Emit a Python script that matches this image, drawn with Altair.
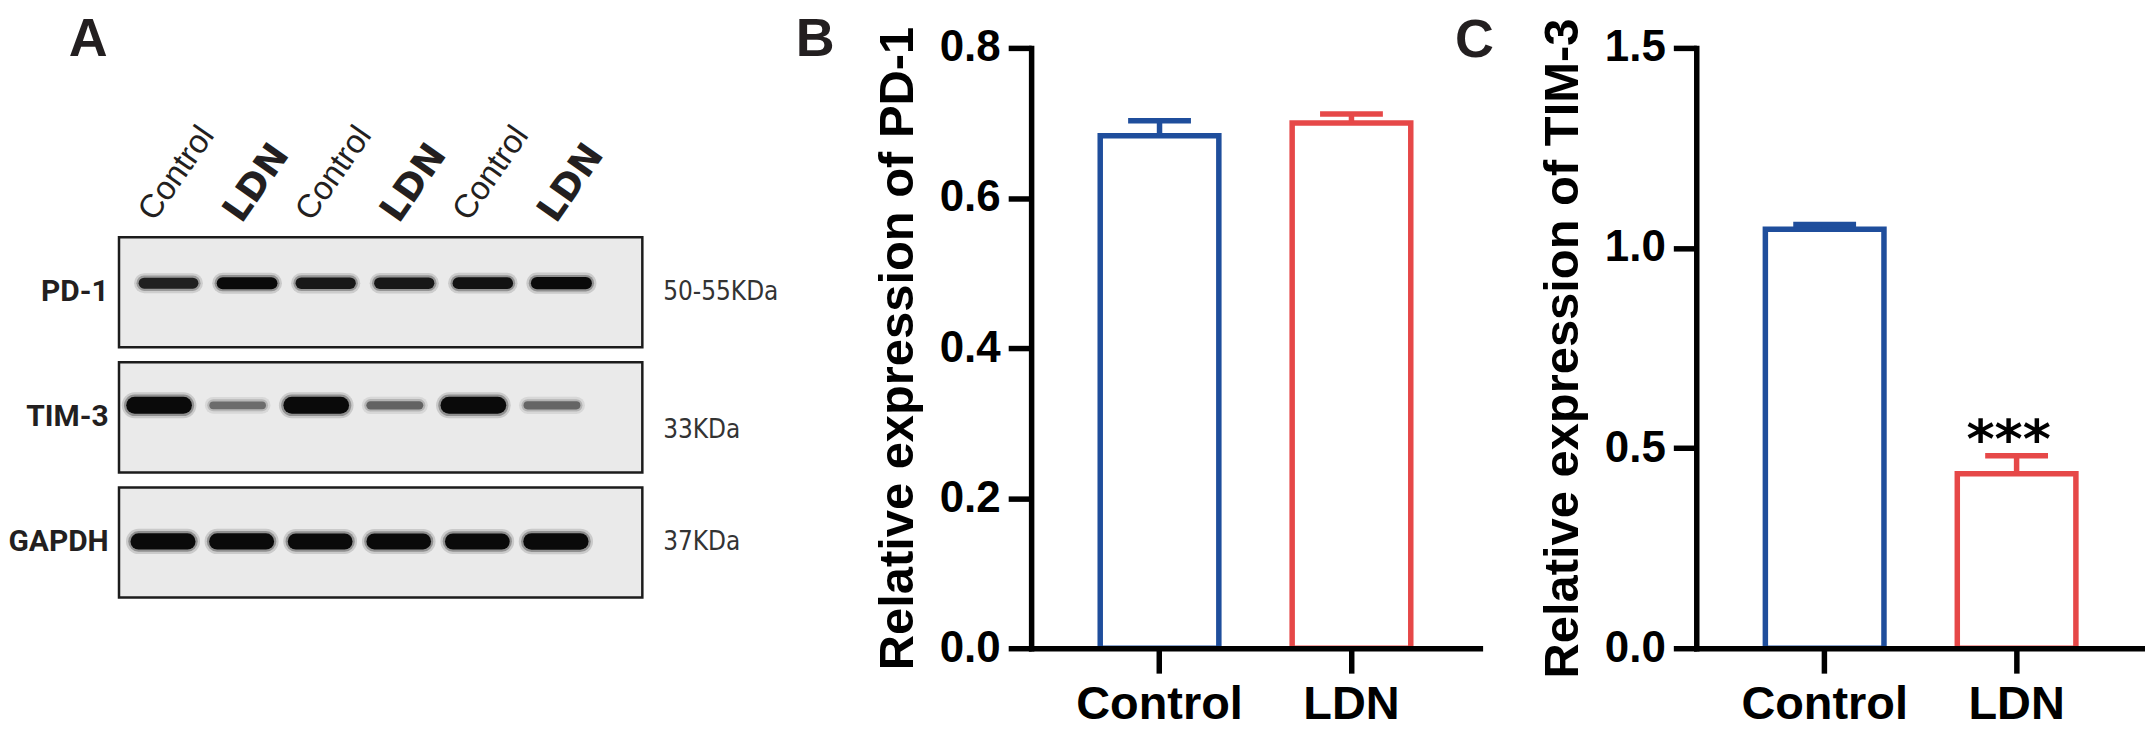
import altair as alt
import pandas as pd

# ---------------- data ----------------
groups = ["Control", "LDN"]
pd1_mean = [0.683, 0.700]
pd1_sem = [0.020, 0.012]
tim3_mean = [1.047, 0.436]
tim3_sem = [0.012, 0.045]
tim3_sig = ["", "***"]

lane_no = [1, 2, 3, 4, 5, 6]
lane_group = ["Control", "LDN", "Control", "LDN", "Control", "LDN"]
blot_proteins = ["PD-1", "TIM-3", "GAPDH"]
blot_weights = ["50-55KDa", "33KDa", "37KDa"]
# relative band intensity (0..1) per lane
pd1_band = [0.55, 0.62, 0.58, 0.58, 0.60, 0.64]
tim3_band = [1.00, 0.30, 1.00, 0.33, 1.00, 0.32]
gapdh_band = [0.95, 0.95, 0.93, 0.92, 0.93, 0.97]

# ---------------- style / layout ----------------
BLUE = "#1f4e9c"
RED = "#e64848"
INK = "#231f20"
SANS = "Liberation Sans"
NARROW = "Roboto"
H = 641

AX = alt.Scale(domain=[-0.98, 9.274], nice=False, zero=False)
AY = alt.Scale(domain=[-2.263, 2.845], nice=False, zero=False, reverse=True)
row_shift = [0.05, -0.07, -0.02]
row_dy = [-0.072, -0.096, -0.008]

band_rows = []
for r, vals in enumerate([pd1_band, tim3_band, gapdh_band]):
    for i, v in enumerate(vals):
        c = lane_no[i] + row_shift[r]
        band_rows.append(dict(x1=c - 0.31, x2=c + 0.31, y=r + row_dy[r], inten=v))
bands = pd.DataFrame(band_rows)

boxes = pd.DataFrame({"protein": blot_proteins, "row": [0, 1, 2], "weight": blot_weights})
lanes_df = pd.DataFrame({"lane": lane_no, "group": lane_group})


def band_layer(lo, hi, op):
    return alt.Chart(bands).mark_rule(strokeCap="round", opacity=op).encode(
        x=alt.X("x1:Q", scale=AX, axis=None),
        x2="x2:Q",
        y=alt.Y("y:Q", scale=AY, axis=None),
        size=alt.Size("inten:Q", scale=alt.Scale(domain=[0, 1], range=[lo, hi]), legend=None),
        color=alt.Color("inten:Q", scale=alt.Scale(domain=[0.3, 0.62], range=["#6c6c6c", "#0a0a0a"], clamp=True), legend=None),
    )


box_layer = alt.Chart(boxes).transform_calculate(
    x1="0.42", x2="7.08", y1="datum.row - 0.44", y2="datum.row + 0.44"
).mark_rect(fill="#eaeaea", stroke="#1c1c1c", strokeWidth=2.5).encode(
    x=alt.X("x1:Q", scale=AX, axis=None), x2="x2:Q",
    y=alt.Y("y1:Q", scale=AY, axis=None), y2="y2:Q",
)

prot_labels = alt.Chart(boxes).mark_text(
    align="right", baseline="middle", font=NARROW, fontWeight="bold", fontSize=30, color=INK
).encode(x=alt.value(100), y=alt.Y("row:Q", scale=AY, axis=None), text="protein:N")

kda_labels = alt.Chart(boxes).transform_calculate(
    ly="datum.row == 1 ? 1.1 : datum.row"
).mark_text(
    align="left", baseline="middle", font="DejaVu Sans Condensed, sans-serif", fontSize=26, color="#333333"
).encode(x=alt.value(656), y=alt.Y("ly:Q", scale=AY, axis=None), text="weight:N")

ctrl_labels = alt.Chart(lanes_df).transform_filter(alt.datum.group == "Control").transform_calculate(
    lx="datum.lane - 0.13"
).mark_text(angle=305, align="left", baseline="alphabetic", font=SANS, fontSize=33, color=INK).encode(
    x=alt.X("lx:Q", scale=AX, axis=None), y=alt.value(214), text="group:N"
)
ldn_labels = alt.Chart(lanes_df).transform_filter(alt.datum.group == "LDN").transform_calculate(
    lx="datum.lane - 0.02"
).mark_text(angle=305, align="left", baseline="alphabetic", font="DejaVu Sans", fontWeight="bold",
            fontSize=37, color=INK).encode(
    x=alt.X("lx:Q", scale=AX, axis=None), y=alt.value(216), text="group:N"
)


def letter(t, x, y):
    return alt.Chart(pd.DataFrame({"t": [t]})).mark_text(
        align="left", baseline="alphabetic", font=SANS, fontWeight="bold", fontSize=54, color=INK
    ).encode(x=alt.value(x), y=alt.value(y), text="t:N")


panel_a = alt.layer(
    box_layer,
    band_layer(13, 26, 0.14),
    band_layer(8, 21.5, 0.3),
    band_layer(4, 17, 1.0),
    prot_labels, kda_labels, ctrl_labels, ldn_labels,
    letter("A", 60, 47),
).resolve_scale(size="independent", color="independent").properties(width=808, height=H)


def bar_panel(df, ymax, yvals, title, letter_txt, letter_x, letter_y, stars=False):
    xenc = alt.X(
        "group:N", sort=groups, title=None,
        scale=alt.Scale(domain=groups, paddingInner=0.382, paddingOuter=0.36),
        axis=alt.Axis(labelAngle=0, tickSize=25, tickWidth=5.5, tickColor="black",
                      domainWidth=5.5, domainColor="black", domainCap="square",
                      labelFont=SANS, labelFontWeight="bold", labelFontSize=47, labelColor="black",
                      labelPadding=8, zindex=1),
    )
    yscale = alt.Scale(domain=[0, ymax], range=[H, 39], nice=False)
    yaxis = alt.Axis(values=yvals, format=".1f", tickSize=23, tickWidth=5.5, tickColor="black",
                     domainWidth=5.5, domainColor="black", domainCap="square", grid=False,
                     labelFont=SANS, labelFontWeight="bold", labelFontSize=44, labelColor="black",
                     labelPadding=8, title=title, titleFont=SANS, titleFontWeight="bold",
                     titleFontSize=49, titleColor="black", titlePadding=17, zindex=1)
    cscale = alt.Scale(domain=groups, range=[BLUE, RED])
    base = alt.Chart(df).transform_calculate(top="datum.mean + datum.sem")
    bars = base.mark_bar(fill="white", strokeWidth=5.5, strokeJoin="miter").encode(
        x=xenc, y=alt.Y("mean:Q", scale=yscale, axis=yaxis),
        stroke=alt.Stroke("group:N", scale=cscale, legend=None),
    )
    err = base.mark_rule(strokeWidth=5.5).encode(
        x=xenc, y=alt.Y("mean:Q", scale=yscale, axis=yaxis), y2="top:Q",
        color=alt.Color("group:N", scale=cscale, legend=None),
    )
    cap = base.mark_tick(thickness=5.5, size=63, opacity=1).encode(
        x=xenc, y=alt.Y("top:Q", scale=yscale, axis=yaxis),
        color=alt.Color("group:N", scale=cscale, legend=None),
    )
    layers = [bars, err, cap]
    if stars:
        layers.append(base.mark_text(font="DejaVu Sans", fontWeight="bold", fontSize=54,
                                     baseline="alphabetic", dy=2, dx=-8, color="black").encode(
            x=xenc, y=alt.Y("top:Q", scale=yscale, axis=yaxis), text="sig:N"))
    layers.append(letter(letter_txt, letter_x, letter_y))
    return alt.layer(*layers).properties(width=450, height=H)


pd1_df = pd.DataFrame({"group": groups, "mean": pd1_mean, "sem": pd1_sem})
tim3_df = pd.DataFrame({"group": groups, "mean": tim3_mean, "sem": tim3_sem, "sig": tim3_sig})

panel_b = bar_panel(pd1_df, 0.8, [0, 0.2, 0.4, 0.6, 0.8], "Relative expression of PD-1", "B", -236, 47)
panel_c = bar_panel(tim3_df, 1.5, [0, 0.5, 1.0, 1.5], "Relative expression of TIM-3", "C", -242, 48, stars=True)

chart = alt.hconcat(panel_a, panel_b, panel_c, spacing=217, bounds="flush").properties(
    padding=0, background="white"
).configure_view(stroke=None)

chart.save("out.html", embed_options={"renderer": "svg", "actions": False})
